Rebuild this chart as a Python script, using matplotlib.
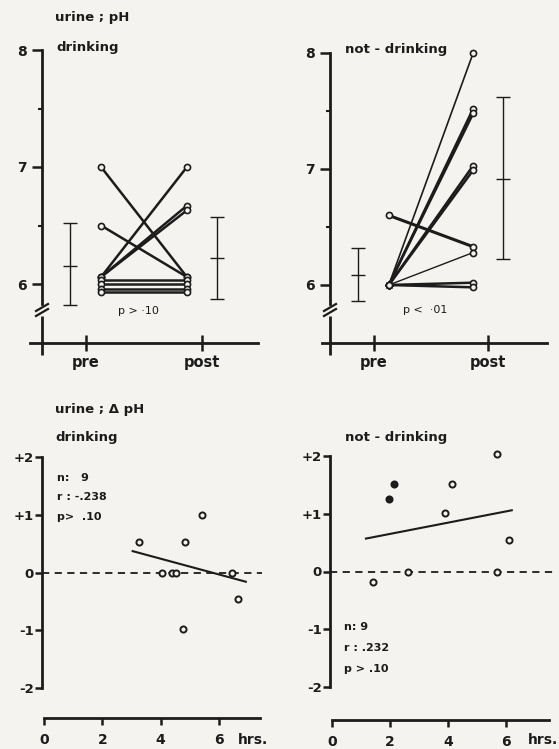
import matplotlib.pyplot as plt

W, H = 559, 749
INK = '#1c1c1c'
PAPER = '#f4f3ef'

# urine pH, pre and post, one entry per subject
drink_pre = [7.00, 6.50, 6.06, 6.06, 6.06, 6.03, 6.00, 5.96, 5.93]
drink_post = [6.06, 6.06, 7.00, 6.67, 6.63, 6.03, 6.00, 5.96, 5.93]
# error bars: low, mean, high
drink_pre_bar = [5.82, 6.15, 6.52]
drink_post_bar = [5.87, 6.22, 6.57]

nodrink_pre = [6.60, 6.00, 6.00, 6.00, 6.00, 6.00, 6.00, 6.00, 6.00]
nodrink_post = [6.33, 8.00, 7.52, 7.48, 7.03, 6.99, 6.28, 6.02, 5.98]
nodrink_pre_bar = [5.86, 6.09, 6.32]
nodrink_post_bar = [6.22, 6.91, 7.62]

# delta pH against hours
drink_hrs = [3.25, 4.06, 4.40, 4.51, 4.75, 4.85, 5.43, 6.43, 6.65]
drink_dph = [0.53, 0.00, 0.00, 0.00, -0.98, 0.53, 1.00, 0.00, -0.46]
drink_fit_hrs = [3.04, 6.92]
drink_fit_dph = [0.37, -0.16]

nodrink_hrs = [1.42, 1.98, 2.14, 2.61, 3.90, 4.13, 5.70, 5.70, 6.09]
nodrink_dph = [-0.19, 1.25, 1.52, 0.00, 1.02, 1.52, 2.03, 0.00, 0.54]
nodrink_fit_hrs = [1.17, 6.20]
nodrink_fit_dph = [0.57, 1.06]

pp_ticks = ['pre', 'post']
ph_ticks = [6, 7, 8]
dph_ticks = [-2, -1, 0, 1, 2]
dph_labels = ['-2', '-1', '0', '+1', '+2']
hrs_ticks = [0, 2, 4, 6]

plt.rcParams['font.family'] = ['DejaVu Sans']
plt.rcParams['font.weight'] = 'bold'

fig = plt.figure(figsize=(W / 100, H / 100), dpi=100, facecolor=PAPER)


def text_px(x, y, s, **kw):
    kw.setdefault('va', 'center')
    kw.setdefault('color', INK)
    fig.text(x / W, 1 - y / H, s, **kw)


def make_axes(box, xref, yref):
    left, top, right, bottom = box
    (px1, d1), (px2, d2) = xref
    (py1, e1), (py2, e2) = yref
    fx = lambda p: d1 + (p - px1) * (d2 - d1) / (px2 - px1)
    fy = lambda p: e1 + (p - py1) * (e2 - e1) / (py2 - py1)
    ax = fig.add_axes([left / W, 1 - bottom / H, (right - left) / W, (bottom - top) / H])
    ax.set_xlim(fx(left), fx(right))
    ax.set_ylim(fy(bottom), fy(top))
    ax.patch.set_visible(False)
    ax.spines[['top', 'right']].set_visible(False)
    for s in ('left', 'bottom'):
        ax.spines[s].set_linewidth(2.0)
        ax.spines[s].set_color(INK)
    return ax, fx, fy


def pre_post(box, xref, yref, axis_x, axis_y, x_from, x_to, brk, pre, post, pre_bar, post_bar, widths):
    ax, fx, fy = make_axes(box, xref, yref)
    ax.spines['left'].set_position(('data', fx(axis_x)))
    ax.spines['left'].set_bounds(fy(brk - 6), 8)
    ax.spines['bottom'].set_position(('data', fy(axis_y)))
    ax.spines['bottom'].set_bounds(fx(x_from), fx(x_to))
    # lower stub of the broken axis and the break marks
    ax.plot([fx(axis_x)] * 2, [fy(brk + 6), fy(axis_y + 12)], color=INK, lw=2.0,
            solid_capstyle='butt', clip_on=False)
    for d in (-2.5, 2.5):
        ax.plot([fx(axis_x - 6), fx(axis_x + 6)], [fy(brk + d + 3.5), fy(brk + d - 3.5)],
                color=INK, lw=1.6, clip_on=False)

    ax.set_yticks(ph_ticks, [str(t) for t in ph_ticks])
    ax.set_yticks([6.5, 7.5], minor=True)
    ax.tick_params(axis='y', which='major', direction='out', length=7, width=1.8,
                   labelsize=10, pad=4, colors=INK)
    ax.tick_params(axis='y', which='minor', direction='out', length=3, width=1.5, colors=INK)
    ax.set_xticks([1, 2], pp_ticks)
    ax.tick_params(axis='x', direction='inout', length=12, width=1.8, labelsize=10.5,
                   pad=3, colors=INK)

    for a, b, w in zip(pre, post, widths):
        ax.plot([1.13, 1.87], [a, b], color=INK, lw=w, marker='o', ms=4.4,
                mfc=PAPER, mec=INK, mew=1.2)
    for xpos, (lo, mid, hi) in ((0.86, pre_bar), (2.13, post_bar)):
        ax.errorbar(xpos, mid, yerr=[[mid - lo], [hi - mid]], fmt='_', ms=10, mew=1.0,
                    color=INK, elinewidth=1.0, capsize=5, capthick=1.0)
    return ax


def delta_panel(box, xref, yref, axis_x, axis_y, x_to, dash_to, hrs, dph, filled, fit_x, fit_y):
    ax, fx, fy = make_axes(box, xref, yref)
    ax.spines['left'].set_position(('data', fx(axis_x)))
    ax.spines['left'].set_bounds(-2, 2)
    ax.spines['bottom'].set_position(('data', fy(axis_y)))
    ax.spines['bottom'].set_bounds(0, fx(x_to))
    ax.set_yticks(dph_ticks, dph_labels)
    ax.tick_params(axis='y', direction='out', length=5, width=1.8, labelsize=9.5,
                   pad=1, colors=INK)
    ax.set_xticks(hrs_ticks, [str(t) for t in hrs_ticks])
    ax.tick_params(axis='x', direction='out', length=5, width=1.8, labelsize=10,
                   pad=6, colors=INK)

    ax.plot([fx(axis_x), fx(dash_to)], [0, 0], color=INK, lw=1.3, dashes=(4, 3))
    ax.plot(fit_x, fit_y, color=INK, lw=1.5)
    for x, y, f in zip(hrs, dph, filled):
        ax.plot(x, y, 'o', ms=4.4, mfc=INK if f else PAPER, mec=INK, mew=1.4)
    return ax


# upper row
pre_post((0, 40, 279, 375), ((86, 1), (202, 2)), ((50, 8), (284, 6)),
         42, 343, 30, 258, 310, drink_pre, drink_post, drink_pre_bar, drink_post_bar,
         [1.8] * 9)
pre_post((280, 40, 559, 375), ((374, 1), (488, 2)), ((53, 8), (285, 6)),
         330, 343, 322, 547, 310, nodrink_pre, nodrink_post, nodrink_pre_bar, nodrink_post_bar,
         [2.2, 1.2, 1.8, 1.8, 1.8, 1.8, 1.0, 1.8, 1.8])

text_px(55, 18, 'urine ; pH', fontsize=9.5)
text_px(56, 48, 'drinking', fontsize=9.5)
text_px(345, 50, 'not - drinking', fontsize=9.5)
text_px(138, 311, 'p > \u00b710', fontsize=8, fontweight='normal', ha='center')
text_px(425, 310, 'p <  \u00b701', fontsize=8, fontweight='normal', ha='center')

# lower row
delta_panel((0, 445, 279, 749), ((44, 0), (219, 6)), ((457, 2), (688, -2)),
            42, 718, 260, 262, drink_hrs, drink_dph, [False] * 9,
            drink_fit_hrs, drink_fit_dph)
delta_panel((280, 445, 559, 749), ((332, 0), (506, 6)), ((456, 2), (687, -2)),
            330, 720, 549, 556, nodrink_hrs, nodrink_dph,
            [False, True, True, False, False, False, False, False, False],
            nodrink_fit_hrs, nodrink_fit_dph)

text_px(55, 409, 'urine ; \u0394 pH', fontsize=9.5)
text_px(55, 438, 'drinking', fontsize=9.5)
text_px(345, 438, 'not - drinking', fontsize=9.5)
text_px(238, 740, 'hrs.', fontsize=10)
text_px(528, 740, 'hrs.', fontsize=10)

for i, s in enumerate(['n:   9', 'r : -.238', 'p>  .10']):
    text_px(57, 478 + 19.5 * i, s, fontsize=8)
for i, s in enumerate(['n: 9', 'r : .232', 'p > .10']):
    text_px(344, 627 + 21 * i, s, fontsize=8)

fig.savefig('out.png', dpi=100, facecolor=PAPER)
